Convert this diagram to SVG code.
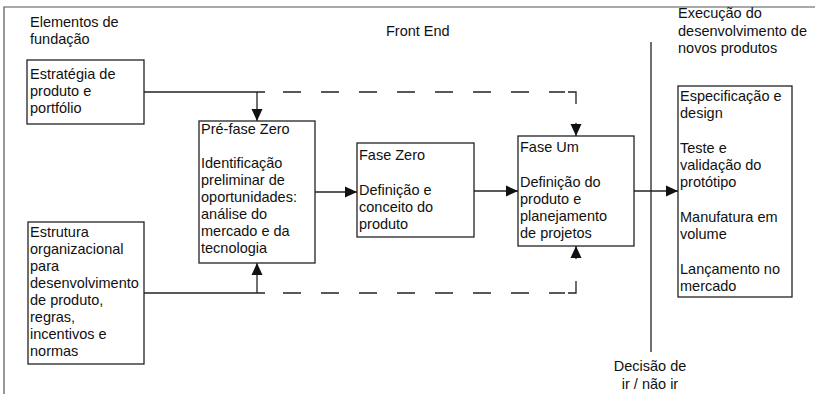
<svg xmlns="http://www.w3.org/2000/svg" width="815" height="394" viewBox="0 0 815 394">
<style>
  text { font-family: "Liberation Sans", Arial, sans-serif; font-size: 14.5px; fill: #111; }
  .box { fill: #fff; stroke: #222; stroke-width: 1.3; }
  .ln { fill: none; stroke: #222; stroke-width: 1.3; }
  .dash { fill: none; stroke: #222; stroke-width: 1.3; stroke-dasharray: 18 20; }
  .frame { fill: none; stroke: #555; stroke-width: 1.2; }
</style>
<defs>
  <marker id="ah" markerUnits="userSpaceOnUse" markerWidth="12" markerHeight="12" refX="12" refY="6" orient="auto">
    <path d="M0,0.5 L12,6 L0,11.5 z" fill="#111"/>
  </marker>
</defs>
<rect width="815" height="394" fill="#fff"/>
<path class="frame" d="M4,394 V7 H815"/>

<g id="labels">
  <text x="30" y="27">Elementos de</text>
  <text x="30" y="44">fundação</text>
  <text x="386" y="36">Front End</text>
  <text x="678" y="18">Execução do</text>
  <text x="678" y="36">desenvolvimento de</text>
  <text x="678" y="53">novos produtos</text>
  <text x="650" y="371" text-anchor="middle">Decisão de</text>
  <text x="650" y="389" text-anchor="middle">ir / não ir</text>
</g>

<g id="decision-line">
  <path class="ln" d="M651,42 V352"/>
</g>

<g id="connectors">
  <path class="ln" d="M144,92 H265"/>
  <path class="ln" d="M257,92 V121" marker-end="url(#ah)"/>
  <path class="dash" d="M265,92 H565" stroke-dashoffset="20"/>
  <path class="ln" d="M568,92 H576 V104"/>
  <path class="ln" d="M576,123 V136" marker-end="url(#ah)"/>

  <path class="ln" d="M144,293 H265"/>
  <path class="ln" d="M257,293 V263" marker-end="url(#ah)"/>
  <path class="dash" d="M265,293 H565" stroke-dashoffset="20"/>
  <path class="ln" d="M568,293 H576 V281"/>
  <path class="ln" d="M576,259 V246" marker-end="url(#ah)"/>

  <path class="ln" d="M315,192 H357" marker-end="url(#ah)"/>
  <path class="ln" d="M474,191 H518" marker-end="url(#ah)"/>
  <path class="ln" d="M634,191 H678" marker-end="url(#ah)"/>
</g>

<g id="estrategia">
  <rect class="box" x="27" y="60" width="117" height="64"/>
  <text x="30" y="79">Estratégia de</text>
  <text x="30" y="96">produto e</text>
  <text x="30" y="113">portfólio</text>
</g>

<g id="estrutura">
  <rect class="box" x="28" y="222" width="116" height="142"/>
  <text x="30" y="237">Estrutura</text>
  <text x="30" y="254">organizacional</text>
  <text x="30" y="271">para</text>
  <text x="30" y="288">desenvolvimento</text>
  <text x="30" y="305">de produto,</text>
  <text x="30" y="322">regras,</text>
  <text x="30" y="339">incentivos e</text>
  <text x="30" y="356">normas</text>
</g>

<g id="pre-fase-zero">
  <rect class="box" x="199" y="121" width="116" height="142"/>
  <text x="201" y="134">Pré-fase Zero</text>
  <text x="201" y="168">Identificação</text>
  <text x="201" y="185">preliminar de</text>
  <text x="201" y="202">oportunidades:</text>
  <text x="201" y="219">análise do</text>
  <text x="201" y="236">mercado e da</text>
  <text x="201" y="253">tecnologia</text>
</g>

<g id="fase-zero">
  <rect class="box" x="357" y="143" width="117" height="94"/>
  <text x="359" y="160">Fase Zero</text>
  <text x="359" y="195">Definição e</text>
  <text x="359" y="212">conceito do</text>
  <text x="359" y="229">produto</text>
</g>

<g id="fase-um">
  <rect class="box" x="518" y="136" width="116" height="110"/>
  <text x="520" y="152">Fase Um</text>
  <text x="520" y="187">Definição do</text>
  <text x="520" y="204">produto e</text>
  <text x="520" y="221">planejamento</text>
  <text x="520" y="238">de projetos</text>
</g>

<g id="execucao">
  <rect class="box" x="678" y="86" width="114" height="211"/>
  <text x="680" y="101">Especificação e</text>
  <text x="680" y="118">design</text>
  <text x="680" y="153">Teste e</text>
  <text x="680" y="170">validação do</text>
  <text x="680" y="187">protótipo</text>
  <text x="680" y="222">Manufatura em</text>
  <text x="680" y="239">volume</text>
  <text x="680" y="274">Lançamento no</text>
  <text x="680" y="291">mercado</text>
</g>
</svg>
